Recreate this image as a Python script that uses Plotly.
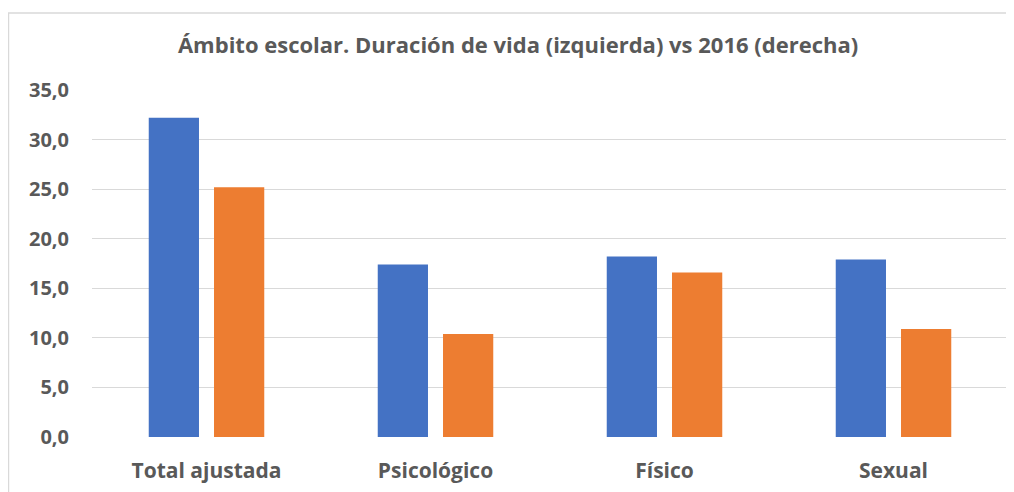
import plotly.graph_objects as go

categorias = ["Total ajustada", "Psicológico", "Físico", "Sexual"]
duracion_vida = [32.2, 17.4, 18.2, 17.9]
anio_2016 = [25.2, 10.4, 16.6, 10.9]
y_ticks = [0, 5, 10, 15, 20, 25, 30, 35]

GRIS = "#595959"
FONT = "Open Sans"

fig = go.Figure()
fig.add_trace(go.Bar(x=categorias, y=duracion_vida, name="Duración de vida",
                     marker=dict(color="#4472C4", line=dict(width=0))))
fig.add_trace(go.Bar(x=categorias, y=anio_2016, name="2016",
                     marker=dict(color="#ED7D31", line=dict(width=0))))

# la página añade 8 px de margen al body, de ahí los márgenes desplazados
fig.update_layout(
    width=1014, height=492,
    margin=dict(l=84, r=14, t=82, b=63),
    paper_bgcolor="white", plot_bgcolor="white",
    barmode="group", bargap=0.43, bargroupgap=0.23,
    showlegend=False,
    separators=",.",
    title=dict(text="<b>Ámbito escolar. Duración de vida (izquierda) vs 2016 (derecha)</b>",
               x=0.503, xanchor="center", y=0.925, yanchor="middle",
               font=dict(family=FONT, size=22, color=GRIS)),
    font=dict(family=FONT, color=GRIS),
)

fig.update_yaxes(range=[0, 35], tickvals=y_ticks, tickformat=".1f",
                 showgrid=True, gridcolor="#d9d9d9", gridwidth=1,
                 zeroline=False, showline=False, ticks="",
                 ticklabelstandoff=22,
                 tickfont=dict(family=FONT, size=20, color=GRIS, weight="bold"))
fig.update_xaxes(showgrid=False, showline=False, ticks="",
                 ticklabelstandoff=19,
                 tickfont=dict(family=FONT, size=21, color=GRIS, weight="bold"))

# marco del gráfico (borde superior e izquierdo visibles)
fig.add_shape(type="rect", xref="paper", yref="paper",
              x0=-0.0912, x1=1.02, y0=-0.3, y1=1.222,
              line=dict(color="#d9d9d9", width=1.5), layer="below")

fig.write_html("out.html")
